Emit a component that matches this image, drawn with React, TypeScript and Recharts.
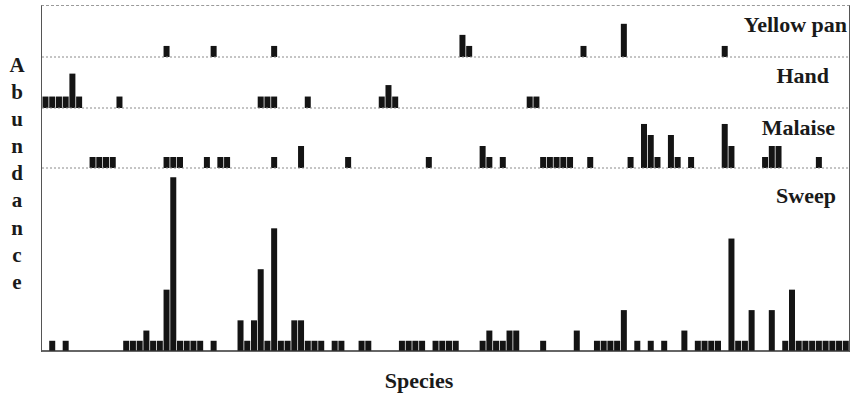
import React from 'react';
import { BarChart, Bar, XAxis, YAxis, ReferenceLine } from 'recharts';

// abundance per species (120 species, left to right)
const yellowPan = [
  0, 0, 0, 0, 0, 0, 0, 0, 0, 0,
  0, 0, 0, 0, 0, 0, 0, 0, 1, 0,
  0, 0, 0, 0, 0, 1, 0, 0, 0, 0,
  0, 0, 0, 0, 1, 0, 0, 0, 0, 0,
  0, 0, 0, 0, 0, 0, 0, 0, 0, 0,
  0, 0, 0, 0, 0, 0, 0, 0, 0, 0,
  0, 0, 2, 1, 0, 0, 0, 0, 0, 0,
  0, 0, 0, 0, 0, 0, 0, 0, 0, 0,
  1, 0, 0, 0, 0, 0, 3, 0, 0, 0,
  0, 0, 0, 0, 0, 0, 0, 0, 0, 0,
  0, 1, 0, 0, 0, 0, 0, 0, 0, 0,
  0, 0, 0, 0, 0, 0, 0, 0, 0, 0,
];

const hand = [
  1, 1, 1, 1, 3, 1, 0, 0, 0, 0,
  0, 1, 0, 0, 0, 0, 0, 0, 0, 0,
  0, 0, 0, 0, 0, 0, 0, 0, 0, 0,
  0, 0, 1, 1, 1, 0, 0, 0, 0, 1,
  0, 0, 0, 0, 0, 0, 0, 0, 0, 0,
  1, 2, 1, 0, 0, 0, 0, 0, 0, 0,
  0, 0, 0, 0, 0, 0, 0, 0, 0, 0,
  0, 0, 1, 1, 0, 0, 0, 0, 0, 0,
  0, 0, 0, 0, 0, 0, 0, 0, 0, 0,
  0, 0, 0, 0, 0, 0, 0, 0, 0, 0,
  0, 0, 0, 0, 0, 0, 0, 0, 0, 0,
  0, 0, 0, 0, 0, 0, 0, 0, 0, 0,
];

const malaise = [
  0, 0, 0, 0, 0, 0, 0, 1, 1, 1,
  1, 0, 0, 0, 0, 0, 0, 0, 1, 1,
  1, 0, 0, 0, 1, 0, 1, 1, 0, 0,
  0, 0, 0, 0, 1, 0, 0, 0, 2, 0,
  0, 0, 0, 0, 0, 1, 0, 0, 0, 0,
  0, 0, 0, 0, 0, 0, 0, 1, 0, 0,
  0, 0, 0, 0, 0, 2, 1, 0, 1, 0,
  0, 0, 0, 0, 1, 1, 1, 1, 1, 0,
  0, 1, 0, 0, 0, 0, 0, 1, 0, 4,
  3, 1, 0, 3, 1, 0, 1, 0, 0, 0,
  0, 4, 2, 0, 0, 0, 0, 1, 2, 2,
  0, 0, 0, 0, 0, 1, 0, 0, 0, 0,
];

const sweep = [
  0, 1, 0, 1, 0, 0, 0, 0, 0, 0,
  0, 0, 1, 1, 1, 2, 1, 1, 6, 17,
  1, 1, 1, 1, 0, 1, 0, 0, 0, 3,
  1, 3, 8, 1, 12, 1, 1, 3, 3, 1,
  1, 1, 0, 1, 1, 0, 0, 1, 1, 0,
  0, 0, 0, 1, 1, 1, 1, 0, 1, 1,
  1, 1, 0, 0, 0, 1, 2, 1, 1, 2,
  2, 0, 0, 0, 1, 0, 0, 0, 0, 2,
  0, 0, 1, 1, 1, 1, 4, 0, 1, 0,
  1, 0, 1, 0, 0, 2, 0, 1, 1, 1,
  1, 0, 11, 1, 1, 4, 0, 0, 4, 0,
  1, 6, 1, 1, 1, 1, 1, 1, 1, 1,
];

const species = yellowPan.map((_, i) => i + 1);

const data = species.map((s, i) => ({
  species: s,
  yellow: yellowPan[i],
  hand: hand[i],
  malaise: malaise[i],
  sweep: sweep[i],
}));

const PLOT_LEFT = 42;
const PLOT_WIDTH = 807;

// top / height of each panel in page pixels, yMax keeps the bar unit close to the scan
const panels = [
  { key: 'yellow', label: 'Yellow pan', top: 5, height: 52, yMax: 4.7, labelTop: 13.5, labelRight: 6, solid: false },
  { key: 'hand', label: 'Hand', top: 57, height: 51, yMax: 4.45, labelTop: 64.5, labelRight: 24, solid: false },
  { key: 'malaise', label: 'Malaise', top: 108, height: 60, yMax: 5.45, labelTop: 116.5, labelRight: 18, solid: false },
  { key: 'sweep', label: 'Sweep', top: 168, height: 183, yMax: 17.9, labelTop: 184.5, labelRight: 17, solid: true },
];

const textStyle: React.CSSProperties = {
  position: 'absolute',
  fontFamily: '"Liberation Serif", "Times New Roman", serif',
  fontWeight: 'bold',
  fontSize: 22,
  lineHeight: '22px',
  color: '#1a1a1a',
  whiteSpace: 'nowrap',
};

const Panel = ({ p }: { p: typeof panels[number] }) => (
  <div style={{ position: 'absolute', left: PLOT_LEFT, top: p.top }}>
    <BarChart
      width={PLOT_WIDTH}
      height={p.height + 2}
      data={data}
      margin={{ top: 0, right: 0, bottom: 2, left: 0 }}
      barCategoryGap={0.5}
    >
      <XAxis dataKey="species" hide />
      <YAxis hide domain={[0, p.yMax]} allowDataOverflow />
      <Bar dataKey={p.key} fill="#141414" isAnimationActive={false} />
      <ReferenceLine
        y={0}
        stroke={p.solid ? '#333' : '#8a8a8a'}
        strokeWidth={p.solid ? 1.5 : 1}
        strokeDasharray={p.solid ? undefined : '2 2'}
      />
    </BarChart>
  </div>
);

export default function App() {
  return (
    <div
      style={{
        position: 'absolute',
        left: 0,
        top: 0,
        width: 853,
        height: 396,
        background: '#fff',
        overflow: 'hidden',
      }}
    >
      {/* frame */}
      <div
        style={{
          position: 'absolute',
          left: PLOT_LEFT - 1,
          top: 5,
          width: PLOT_WIDTH,
          height: 346,
          borderLeft: '1px solid #555',
          borderRight: '1px solid #555',
          borderTop: '1px dashed #9a9a9a',
        }}
      />
      {panels.map((p) => (
        <Panel key={p.key} p={p} />
      ))}
      {panels.map((p) => (
        <div key={p.key + '-label'} style={{ ...textStyle, top: p.labelTop, right: p.labelRight }}>
          {p.label}
        </div>
      ))}
      <div
        style={{
          ...textStyle,
          fontSize: 21,
          left: 6,
          top: 52,
          width: 22,
          textAlign: 'center',
          lineHeight: '27.1px',
        }}
      >
        {'Abundance'.split('').map((ch, i) => (
          <div key={i}>{ch}</div>
        ))}
      </div>
      <div style={{ ...textStyle, left: 319, top: 369.5, width: 200, textAlign: 'center' }}>Species</div>
    </div>
  );
}
